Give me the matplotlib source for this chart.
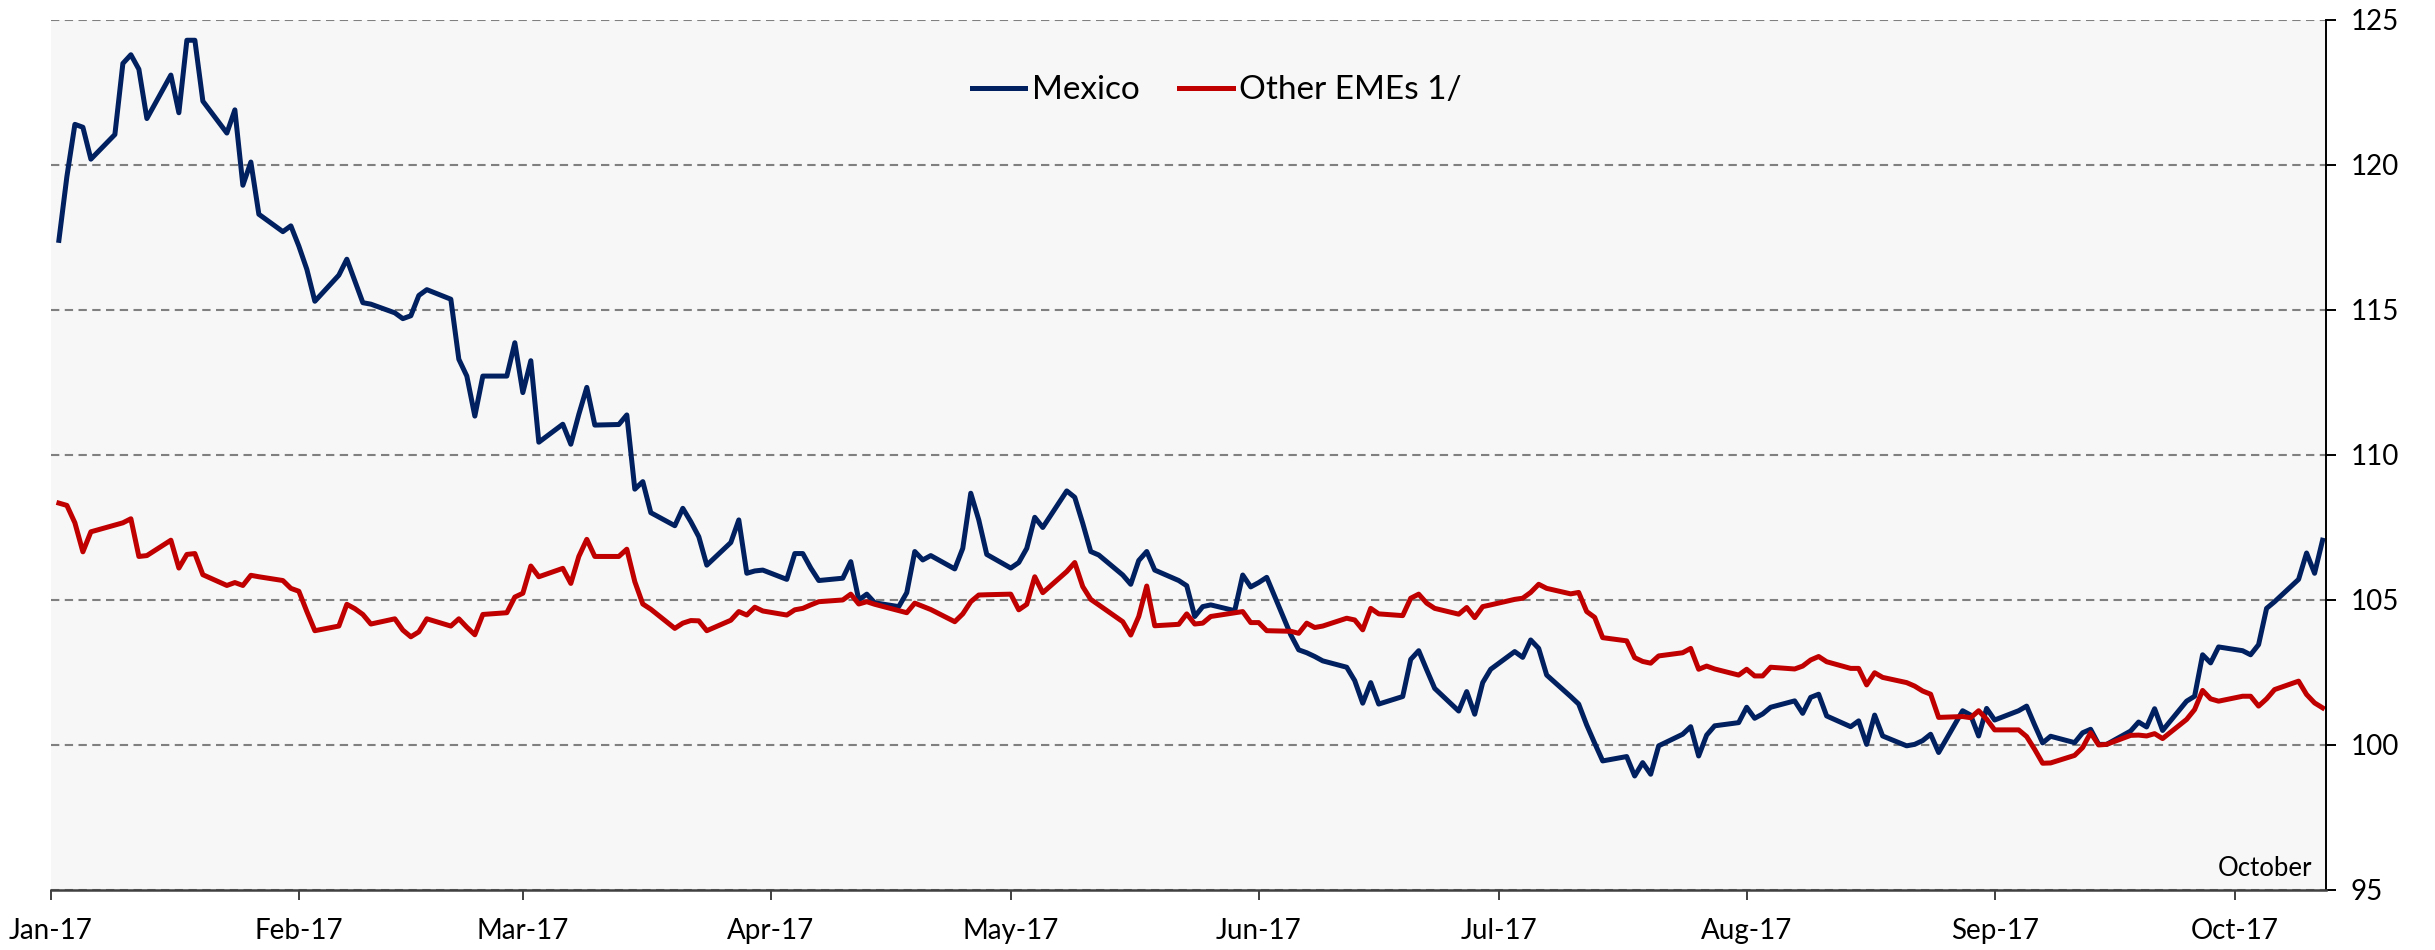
import pandas as pd
import matplotlib.pyplot as plt
import matplotlib.dates as mdates

plt.rcParams['font.family'] = ['Lato', 'DejaVu Sans']

# trading days shown in the chart (2017-01-02 .. 2017-10-12)
dates = pd.bdate_range('2017-01-02', '2017-10-12')

mexico = [
    # Jan
    117.4, 119.6, 121.4, 121.3, 120.2, 121.05, 123.5, 123.8, 123.3, 121.6,
    123.1, 121.8, 124.3, 124.3, 122.2, 121.1, 121.9, 119.3, 120.1, 118.3,
    117.7, 117.9,
    # Feb
    117.2, 116.4, 115.3, 116.2, 116.75, 116.0, 115.25, 115.2, 114.9, 114.7,
    114.8, 115.5, 115.7, 115.37, 113.3, 112.72, 111.34, 112.72, 112.72, 113.87,
    # Mar
    112.15, 113.25, 110.44, 111.06, 110.37, 111.4, 112.33, 111.03, 111.05, 111.38,
    108.82, 109.08, 108.01, 107.56, 108.16, 107.7, 107.18, 106.2, 106.98, 107.76,
    105.92, 106.0, 106.03,
    # Apr
    105.71, 106.6, 106.6, 106.1, 105.67, 105.75, 106.32, 105.0, 105.2, 104.9,
    104.77, 105.25, 106.67, 106.38, 106.53, 106.07, 106.78, 108.68, 107.76, 106.57,
    # May
    106.1, 106.29, 106.78, 107.85, 107.5, 108.76, 108.54, 107.64, 106.67, 106.55,
    105.86, 105.54, 106.36, 106.67, 106.03, 105.67, 105.49, 104.43, 104.77, 104.83,
    104.63, 105.86, 105.45,
    # Jun
    105.6, 105.78, 103.8, 103.28, 103.18, 103.05, 102.9, 102.68, 102.22, 101.44,
    102.15, 101.41, 101.67, 102.95, 103.25, 102.59, 101.95, 101.17, 101.84, 101.06,
    102.15, 102.61,
    # Jul
    103.22, 103.02, 103.62, 103.33, 102.41, 101.67, 101.41, 100.69, 100.06, 99.45,
    99.6, 98.93, 99.39, 98.99, 99.97, 100.37, 100.63, 99.62, 100.34, 100.66,
    100.77,
    # Aug
    101.3, 100.92, 101.07, 101.3, 101.52, 101.09, 101.64, 101.75, 101.0, 100.63,
    100.83, 100.02, 101.03, 100.31, 99.97, 100.02, 100.15, 100.37, 99.74, 101.18,
    101.03, 100.31, 101.26,
    # Sep
    100.86, 101.18, 101.34, 100.69, 100.07, 100.3, 100.08, 100.42, 100.54, 100.02,
    100.02, 100.48, 100.79, 100.62, 101.25, 100.5, 101.51, 101.68, 103.11, 102.83,
    103.38,
    # Oct
    103.25, 103.11, 103.46, 104.71, 104.94, 105.71, 106.62, 105.92, 107.06,
]

other_emes = [
    # Jan
    108.34, 108.26, 107.66, 106.66, 107.35, 107.58, 107.66, 107.8, 106.5, 106.53,
    107.06, 106.1, 106.57, 106.6, 105.87, 105.5, 105.6, 105.5, 105.85, 105.8,
    105.67, 105.4,
    # Feb
    105.3, 104.6, 103.94, 104.1, 104.85, 104.7, 104.5, 104.17, 104.35, 103.96,
    103.73, 103.9, 104.35, 104.1, 104.35, 104.06, 103.8, 104.5, 104.56, 105.1,
    # Mar
    105.23, 106.17, 105.8, 106.09, 105.57, 106.5, 107.09, 106.5, 106.5, 106.75,
    105.63, 104.86, 104.68, 104.02, 104.2, 104.29, 104.28, 103.94, 104.3, 104.6,
    104.48, 104.75, 104.62,
    # Apr
    104.48, 104.66, 104.71, 104.83, 104.94, 105.0, 105.2, 104.86, 104.94, 104.85,
    104.63, 104.56, 104.89, 104.78, 104.67, 104.25, 104.52, 104.94, 105.17, 105.18,
    # May
    105.2, 104.66, 104.85, 105.8, 105.25, 105.98, 106.29, 105.46, 105.02, 104.83,
    104.25, 103.79, 104.43, 105.48, 104.11, 104.16, 104.52, 104.17, 104.2, 104.43,
    104.56, 104.6, 104.22,
    # Jun
    104.22, 103.94, 103.92, 103.85, 104.2, 104.05, 104.1, 104.37, 104.31, 103.97,
    104.71, 104.52, 104.46, 105.06, 105.2, 104.89, 104.71, 104.51, 104.74, 104.39,
    104.77, 104.83,
    # Jul
    105.02, 105.06, 105.26, 105.54, 105.4, 105.21, 105.26, 104.6, 104.4, 103.7,
    103.59, 103.01, 102.88, 102.82, 103.07, 103.18, 103.33, 102.61, 102.72, 102.62,
    102.41,
    # Aug
    102.61, 102.38, 102.38, 102.68, 102.62, 102.72, 102.93, 103.05, 102.87, 102.64,
    102.64, 102.07, 102.49, 102.33, 102.15, 102.03, 101.86, 101.75, 100.95, 100.98,
    100.94, 101.18, 100.89,
    # Sep
    100.52, 100.52, 100.29, 99.85, 99.37, 99.38, 99.64, 99.91, 100.42, 100.0,
    100.02, 100.33, 100.34, 100.31, 100.39, 100.22, 100.88, 101.22, 101.88, 101.59,
    101.51,
    # Oct
    101.68, 101.68, 101.34, 101.59, 101.91, 102.2, 101.74, 101.45, 101.28,
]

y_ticks = [95, 100, 105, 110, 115, 120, 125]

fig = plt.figure(figsize=(24.35, 9.5), dpi=100)
ax = fig.add_axes([0.0209, 0.0632, 0.9343, 0.9158])
ax.set_facecolor('#F7F7F7')

ax.plot(dates, mexico, color='#002060', lw=3.6, label='Mexico', solid_joinstyle='round')
ax.plot(dates, other_emes, color='#C00000', lw=3.6, label='Other EMEs 1/', solid_joinstyle='round')

ax.set_ylim(95, 125)
ax.set_yticks(y_ticks)
ax.set_xlim(pd.Timestamp('2017-01-01'), pd.Timestamp('2017-10-12 10:00'))
ax.xaxis.set_major_locator(mdates.MonthLocator())
ax.xaxis.set_major_formatter(mdates.DateFormatter('%b-%y'))

ax.yaxis.tick_right()
ax.grid(axis='y', color='#808080', lw=1.5, dashes=(4, 2.6))
ax.set_axisbelow(True)

for side in ['top', 'left']:
    ax.spines[side].set_visible(False)
ax.spines['right'].set_linewidth(1.4)
ax.spines['bottom'].set_linewidth(1.8)
ax.spines['bottom'].set_color('#404040')

ax.tick_params(axis='y', direction='out', length=7, width=1.4, pad=11, labelsize=20)
ax.tick_params(axis='x', direction='out', length=7, width=1.4, pad=13, labelsize=20,
               color='#404040')

ax.legend(loc='center', bbox_to_anchor=(0.5125, 0.919), ncol=2, frameon=False,
          fontsize=24, handlelength=1.6, handletextpad=0.2, columnspacing=1.2)

ax.text(0.9938, 0.025, 'October', transform=ax.transAxes, ha='right', va='center',
        fontsize=18.5)

fig.savefig('out.png', dpi=100)
